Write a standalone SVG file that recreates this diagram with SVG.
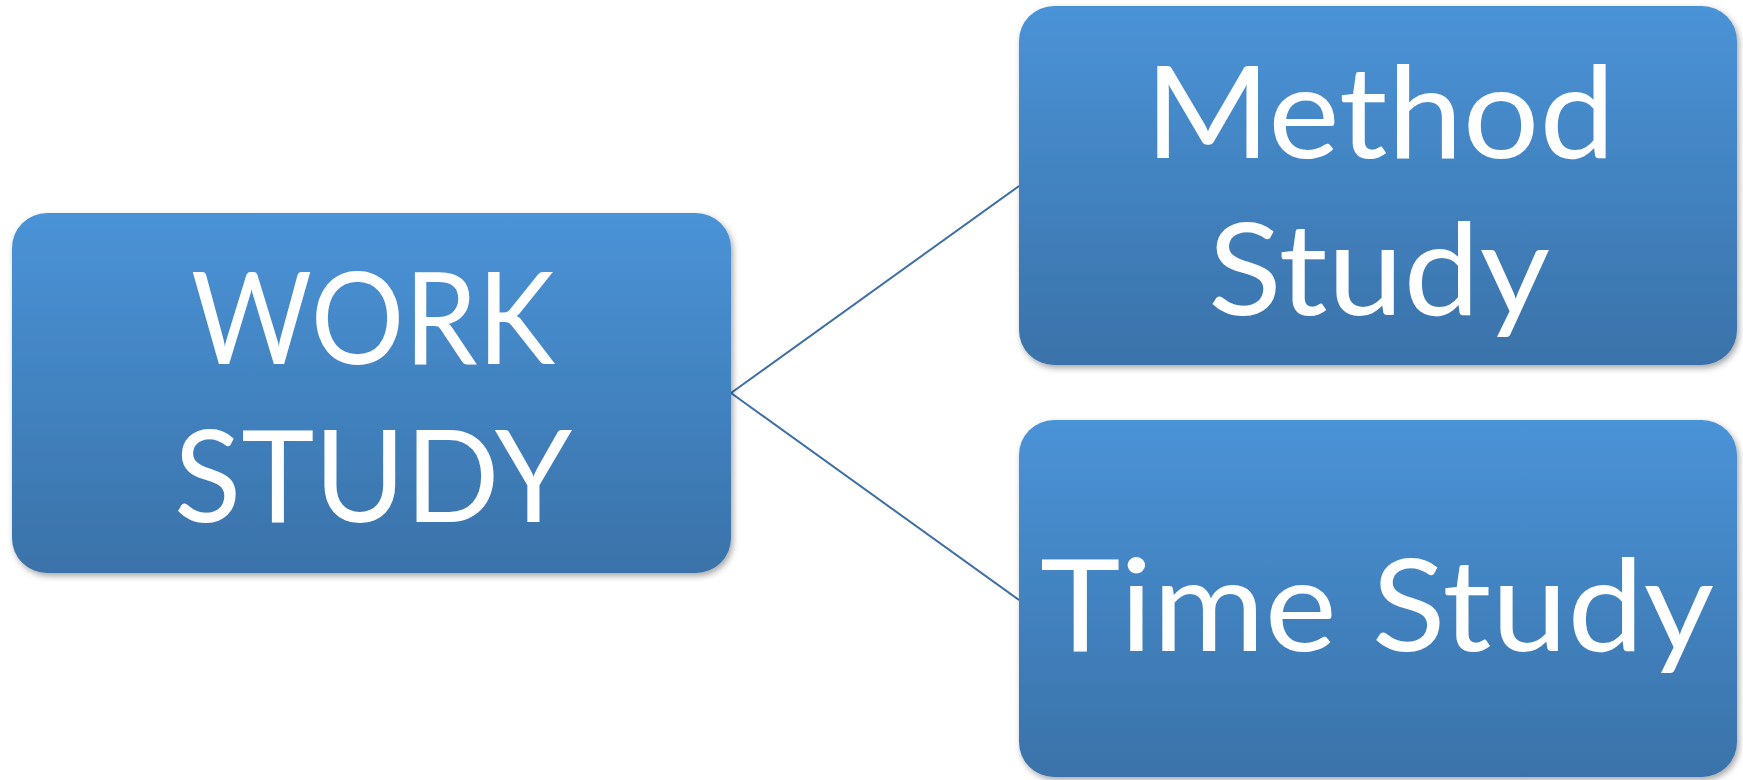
<svg xmlns="http://www.w3.org/2000/svg" width="1743" height="780" viewBox="0 0 1743 780">
  <defs>
    <linearGradient id="boxGrad" x1="0" y1="0" x2="0" y2="1">
      <stop offset="0" stop-color="#4a93d7"/>
      <stop offset="1" stop-color="#3a72a9"/>
    </linearGradient>
    <filter id="shadow" x="-5%" y="-5%" width="110%" height="115%">
      <feDropShadow dx="2" dy="3" stdDeviation="3" flood-color="#000" flood-opacity="0.35"/>
    </filter>
  </defs>
  <style>
    .box { fill: url(#boxGrad); filter: url(#shadow); }
    .label { font-family: Lato, "Open Sans", sans-serif; font-size: 128px; fill: #ffffff; text-anchor: middle; }
    .conn { stroke: #3f6fa4; stroke-width: 2; fill: none; }
  </style>
  <rect width="1743" height="780" fill="#ffffff"/>
  <g id="connectors">
    <line class="conn" x1="731" y1="393" x2="1019" y2="186"/>
    <line class="conn" x1="731" y1="393" x2="1019" y2="600"/>
  </g>
  <g id="work-study">
    <rect class="box" x="12" y="213" width="719" height="360" rx="35" ry="35"/>
    <text class="label"><tspan x="373" y="364" textLength="364" lengthAdjust="spacingAndGlyphs">WORK</tspan><tspan x="373" y="522" textLength="398" lengthAdjust="spacingAndGlyphs">STUDY</tspan></text>
  </g>
  <g id="method-study">
    <rect class="box" x="1019" y="6" width="718" height="359" rx="35" ry="35"/>
    <text class="label"><tspan x="1380" y="158" textLength="470" lengthAdjust="spacingAndGlyphs">Method</tspan><tspan x="1379" y="315" textLength="342" lengthAdjust="spacingAndGlyphs">Study</tspan></text>
  </g>
  <g id="time-study">
    <rect class="box" x="1019" y="420" width="718" height="357" rx="35" ry="35"/>
    <text class="label" x="1377" y="651" textLength="674" lengthAdjust="spacingAndGlyphs">Time Study</text>
  </g>
</svg>
